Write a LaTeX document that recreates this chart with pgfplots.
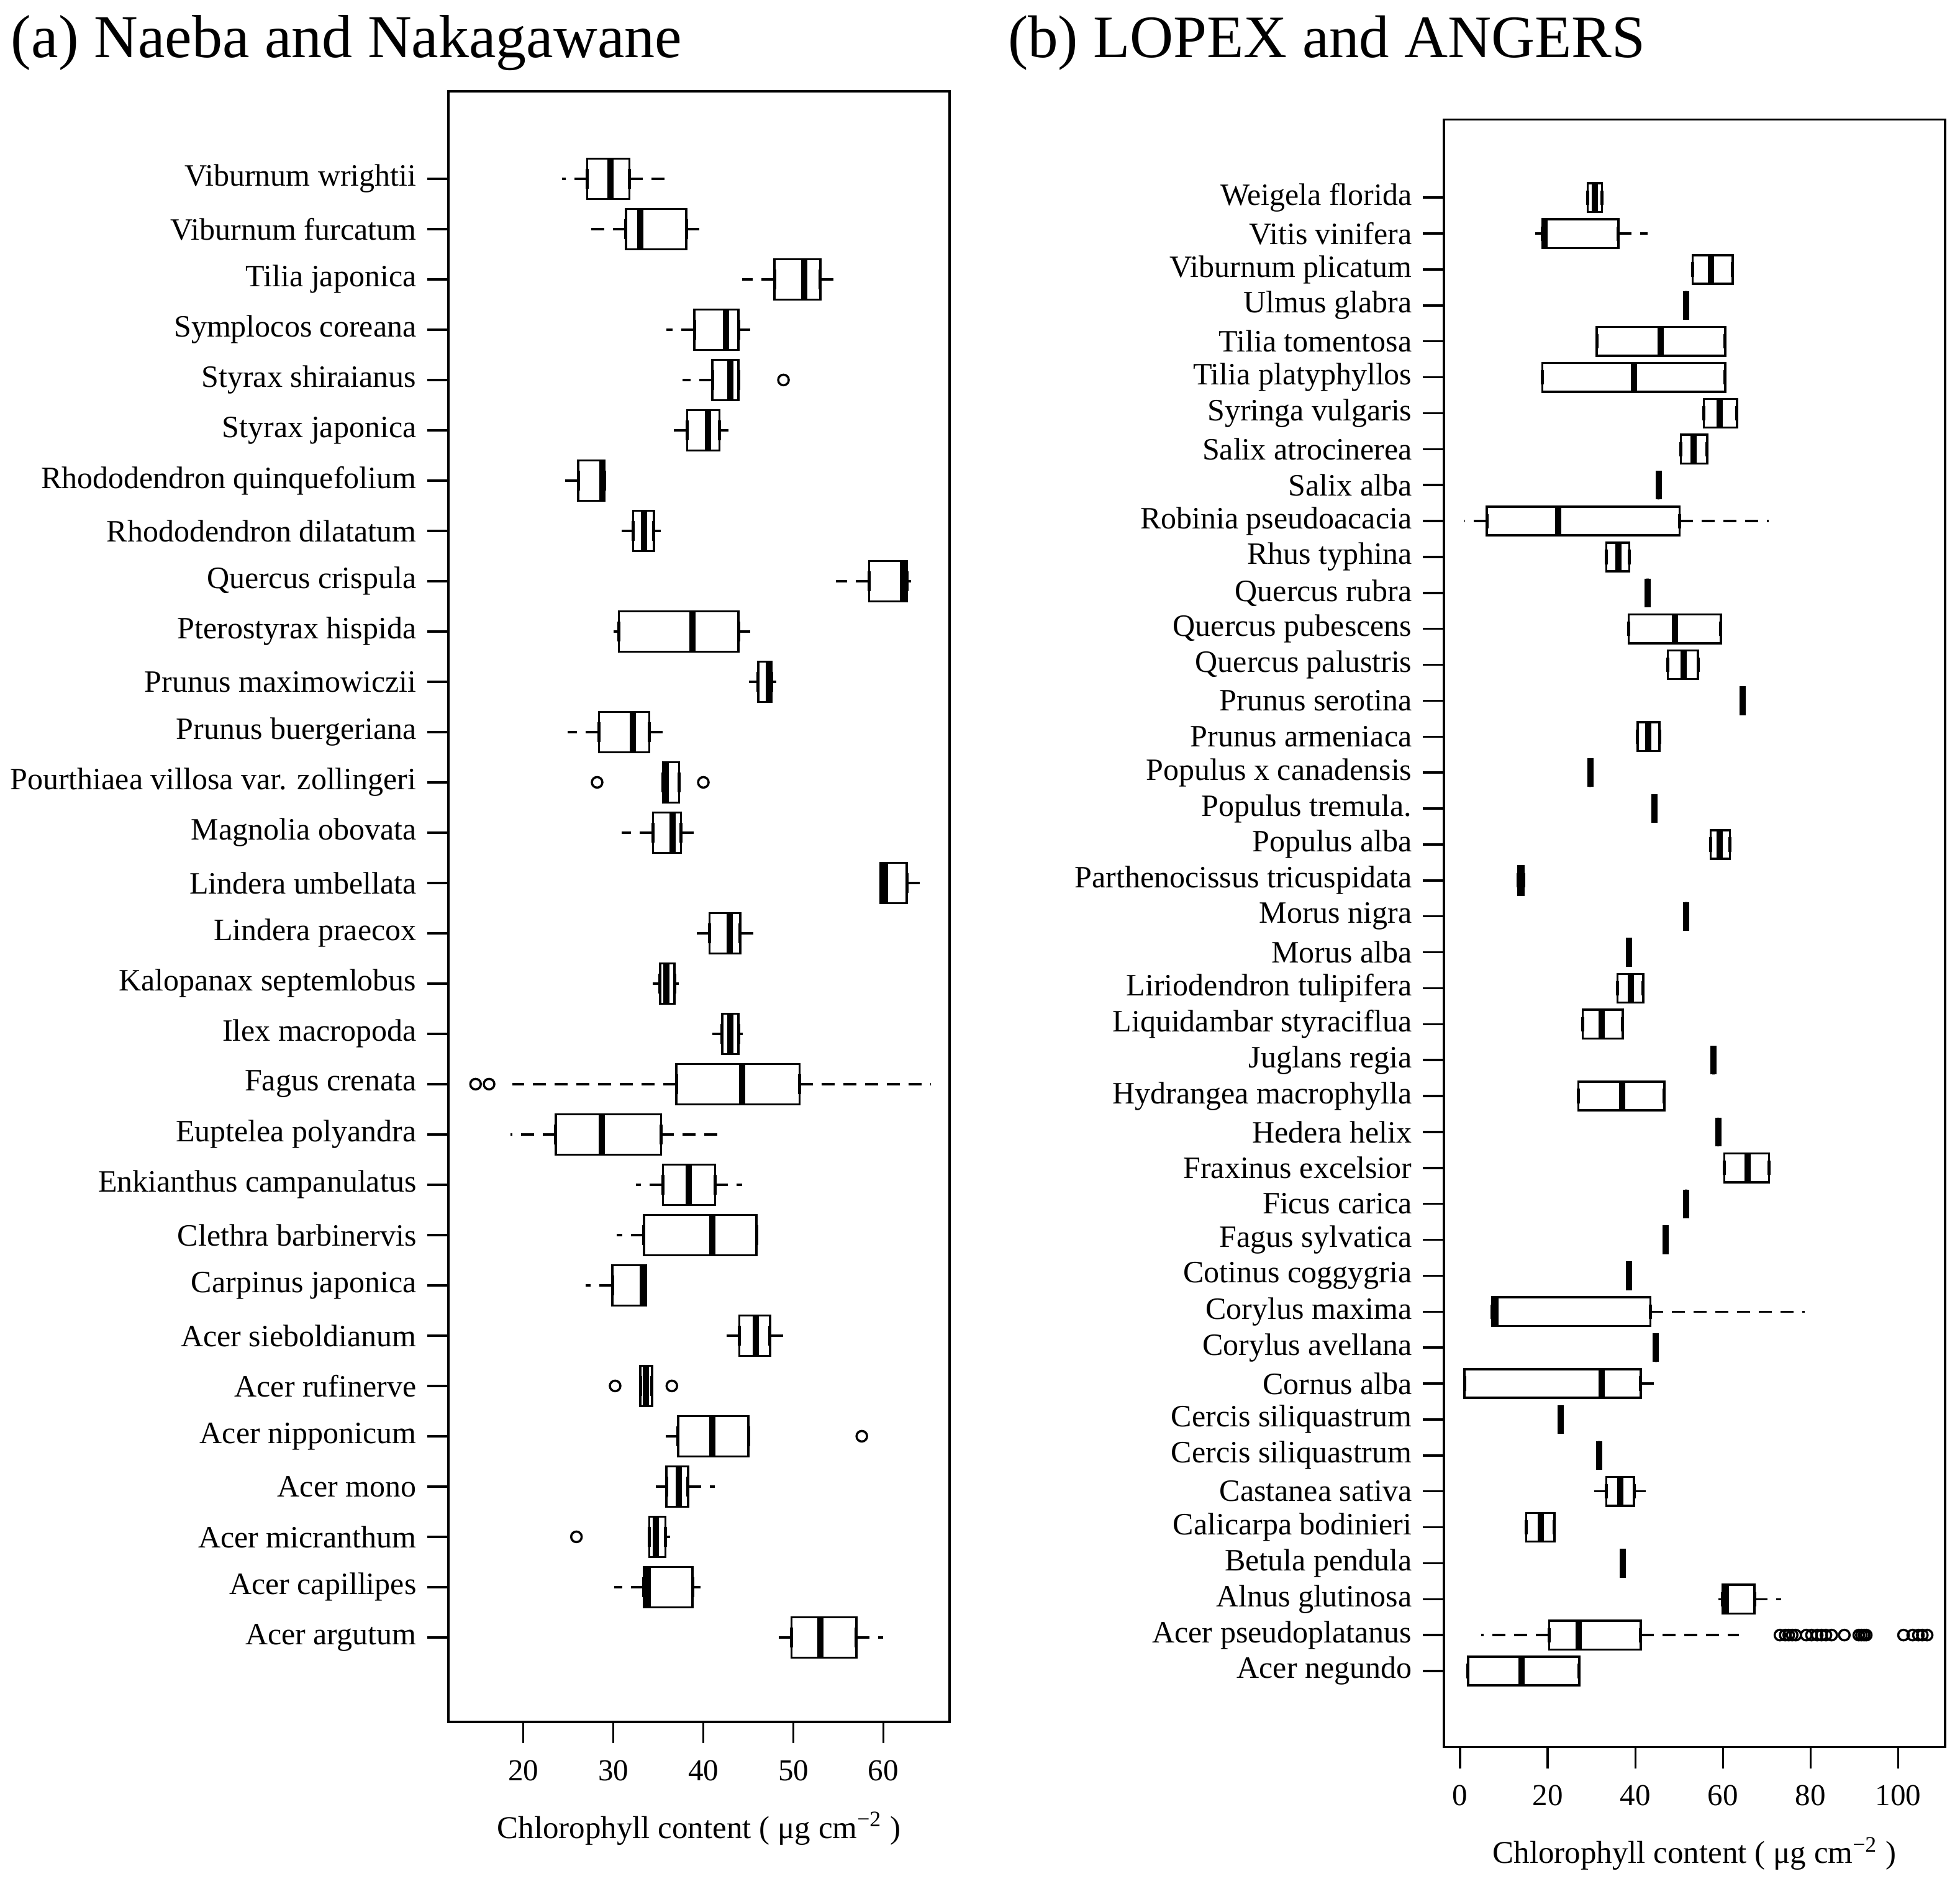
\documentclass[border=0pt]{standalone}
\usepackage{fontspec}
\setmainfont{Liberation Serif}
\usepackage{pgfplots}
\usepackage{pgfplotstable}
\pgfplotsset{compat=1.18}
\usepgfplotslibrary{statistics}

\pgfplotsset{
  boxplot/draw/whisker/.code 2 args={
    \draw[/pgfplots/boxplot/every whisker/.try, dash pattern=on 4.2bp off 2.8bp] (boxplot cs:#1) -- (boxplot cs:#2);
    \draw[/pgfplots/boxplot/every whisker/.try, solid, line width=1bp] (boxplot box cs:#1,0.25) -- (boxplot box cs:#1,0.75);
  },
  rb/.style={black, line width=0.7bp, solid,
    boxplot/draw direction=x,
    boxplot/box extend=0.8,
    boxplot/whisker extend=0.4,
    boxplot/every median/.style={line width=2bp},
  },
  rframe/.style={
    scale only axis,
    anchor=south west,
    axis line style={line width=0.7bp},
    tick style={line width=0.7bp, black},
    tick align=outside, xtick pos=left, ytick pos=left,
    major tick length=6.8bp,
    /pgf/number format/assume math mode=true,
    xticklabel style={font=\fontsize{9.8bp}{11bp}\selectfont, anchor=base, yshift=-12bp},
    yticklabel style={font=\fontsize{10bp}{11bp}\selectfont},
    xlabel style={font=\fontsize{10.2bp}{12bp}\selectfont, at={(axis description cs:0.5,0)}, anchor=base, yshift=-37.4bp},
  },
}

\newcommand{\boxesfrom}[2]{% #1 table, #2 last row index
  \pgfplotsinvokeforeach{0,...,#2}{
    \pgfplotstablegetelem{##1}{pos}\of#1\let\vpos\pgfplotsretval
    \pgfplotstablegetelem{##1}{lw}\of#1\let\vlw\pgfplotsretval
    \pgfplotstablegetelem{##1}{q1}\of#1\let\vqa\pgfplotsretval
    \pgfplotstablegetelem{##1}{med}\of#1\let\vmed\pgfplotsretval
    \pgfplotstablegetelem{##1}{q3}\of#1\let\vqb\pgfplotsretval
    \pgfplotstablegetelem{##1}{uw}\of#1\let\vuw\pgfplotsretval
    \edef\doplot{\noexpand\addplot[rb, boxplot prepared={draw position=\vpos,
      lower whisker=\vlw, lower quartile=\vqa, median=\vmed,
      upper quartile=\vqb, upper whisker=\vuw}] coordinates {};}
    \doplot
  }
}

\pgfplotstableread{
pos lw q1 med q3 uw
1 47.9 49.8 53.0 57.0 60.0
2 30.1 33.4 33.8 38.8 39.7
3 34.0 34.0 34.7 35.8 36.3
4 34.7 35.9 37.3 38.3 41.3
5 35.8 37.2 41.0 45.0 45.0
6 33.0 33.0 33.6 34.3 34.3
7 42.3 44.0 45.8 47.4 49.4
8 26.9 29.9 33.3 33.6 33.6
9 30.4 33.4 41.0 45.9 46.1
10 32.5 35.5 38.4 41.3 44.3
11 18.6 23.6 28.7 35.3 41.6
12 18.8 37.0 44.3 50.7 65.3
13 41.0 42.1 43.0 43.9 44.4
14 34.4 35.2 35.9 36.8 37.3
15 38.3 40.7 42.9 44.1 45.9
16 59.7 59.7 60.2 62.6 64.9
17 30.9 34.4 36.6 37.5 39.0
18 35.5 35.5 35.8 37.3 37.3
19 24.9 28.4 32.2 34.0 35.8
20 45.1 46.1 47.3 47.6 48.1
21 30.0 30.6 38.8 43.9 45.2
22 54.7 58.4 62.2 62.6 63.1
23 30.9 32.2 33.4 34.5 35.3
24 23.8 26.1 28.8 29.0 29.2
25 35.8 38.2 40.5 41.8 42.8
26 37.7 41.0 43.0 43.9 43.9
27 35.9 39.0 42.5 43.9 45.2
28 44.3 47.9 51.2 53.0 54.7
29 26.6 31.4 33.0 38.1 39.9
30 24.3 27.1 29.7 31.8 36.5
}\dataA

\pgfplotstableread{
x y
48.9 26
28.2 18
40.0 18
14.7 12
16.2 12
30.2 6
36.5 6
57.6 5
25.9 3
}\outA

\pgfplotstableread{
pos lw q1 med q3 uw
1 1.8 1.8 14.0 27.2 27.2
2 4.8 20.3 27.1 41.2 63.7
3 58.9 59.9 60.6 67.2 73.3
4 37.1 37.1 37.1 37.1 37.1
5 15.1 15.1 18.4 21.5 21.5
6 30.6 33.4 36.5 39.7 42.3
7 31.7 31.7 31.7 31.7 31.7
8 23.0 23.0 23.0 23.0 23.0
9 1.0 1.0 32.3 41.2 45.4
10 44.7 44.7 44.7 44.7 44.7
11 7.3 7.3 8.0 43.4 78.7
12 38.6 38.6 38.6 38.6 38.6
13 46.9 46.9 46.9 46.9 46.9
14 51.6 51.6 51.6 51.6 51.6
15 60.3 60.3 65.6 70.5 70.5
16 58.9 58.9 58.9 58.9 58.9
17 27.0 27.0 37.0 46.6 46.6
18 57.8 57.8 57.8 57.8 57.8
19 28.0 28.0 32.3 37.1 37.1
20 35.9 35.9 38.9 41.8 41.8
21 38.5 38.5 38.5 38.5 38.5
22 51.6 51.6 51.6 51.6 51.6
23 13.3 13.3 13.9 14.5 14.5
24 57.2 57.2 59.3 61.6 61.6
25 44.3 44.3 44.3 44.3 44.3
26 29.7 29.7 29.7 29.7 29.7
27 40.5 40.5 43.0 45.5 45.5
28 64.5 64.5 64.5 64.5 64.5
29 47.4 47.4 51.0 54.3 54.3
30 38.5 38.5 49.0 59.5 59.5
31 42.8 42.8 42.8 42.8 42.8
32 33.4 33.4 36.1 38.6 38.6
33 1.0 6.1 22.4 50.1 70.4
34 45.3 45.3 45.3 45.3 45.3
35 50.4 50.4 53.3 56.4 56.4
36 55.6 55.6 59.3 63.2 63.2
37 18.8 18.8 39.7 60.5 60.5
38 31.2 31.2 45.8 60.5 60.5
39 51.6 51.6 51.6 51.6 51.6
40 53.1 53.1 57.3 62.2 62.2
41 17.1 18.8 19.3 36.1 42.8
42 29.1 29.1 30.8 32.4 32.4
}\dataB

\pgfplotstableread{
x y
73.0 2
74.2 2
75.0 2
75.8 2
76.6 2
79.0 2
80.2 2
81.5 2
82.5 2
83.5 2
84.8 2
87.7 2
91.0 2
91.6 2
92.2 2
92.7 2
101.2 2
103.3 2
104.6 2
105.5 2
106.6 2
}\outB

\begin{document}
\begin{tikzpicture}
\useasboundingbox (0,0) rectangle (631.2bp,606.8bp);

\begin{axis}[rframe,
  at={(144.4bp,52.2bp)}, width=161.4bp, height=525.2bp,
  xmin=11.68, xmax=67.35, ymin=-0.68, ymax=31.74,
  xtick={20,30,40,50,60},
  ytick={1,...,30},
  yticklabels={Acer argutum, Acer capillipes, Acer micranthum, Acer mono, Acer nipponicum, Acer rufinerve, Acer sieboldianum, Carpinus japonica, Clethra barbinervis, Enkianthus campanulatus, Euptelea polyandra, Fagus crenata, Ilex macropoda, Kalopanax septemlobus, Lindera praecox, Lindera umbellata, Magnolia obovata, Pourthiaea villosa var. zollingeri, Prunus buergeriana, Prunus maximowiczii, Pterostyrax hispida, Quercus crispula, Rhododendron dilatatum, Rhododendron quinquefolium, Styrax japonica, Styrax shiraianus, Symplocos coreana, Tilia japonica, Viburnum furcatum, Viburnum wrightii},
  xlabel={Chlorophyll content ( μg cm\textsuperscript{−2} )},
]
\boxesfrom{\dataA}{29}
\addplot[only marks, mark=o, mark size=1.7bp, black, mark options={line width=0.7bp}] table[x=x, y=y] {\outA};
\end{axis}

\begin{axis}[rframe,
  at={(465bp,44.06bp)}, width=161.4bp, height=524.2bp,
  xmin=-3.7, xmax=110.7, ymin=-1.12, ymax=44.17,
  xtick={0,20,40,60,80,100},
  ytick={1,...,42},
  yticklabels={Acer negundo, Acer pseudoplatanus, Alnus glutinosa, Betula pendula, Calicarpa bodinieri, Castanea sativa, Cercis siliquastrum, Cercis siliquastrum, Cornus alba, Corylus avellana, Corylus maxima, Cotinus coggygria, Fagus sylvatica, Ficus carica, Fraxinus excelsior, Hedera helix, Hydrangea macrophylla, Juglans regia, Liquidambar styraciflua, Liriodendron tulipifera, Morus alba, Morus nigra, Parthenocissus tricuspidata, Populus alba, Populus tremula., Populus x canadensis, Prunus armeniaca, Prunus serotina, Quercus palustris, Quercus pubescens, Quercus rubra, Rhus typhina, Robinia pseudoacacia, Salix alba, Salix atrocinerea, Syringa vulgaris, Tilia platyphyllos, Tilia tomentosa, Ulmus glabra, Viburnum plicatum, Vitis vinifera, Weigela florida},
  xlabel={Chlorophyll content ( μg cm\textsuperscript{−2} )},
]
\boxesfrom{\dataB}{41}
\addplot[only marks, mark=o, mark size=1.7bp, black, mark options={line width=0.7bp}] table[x=x, y=y] {\outB};
\end{axis}

\node[anchor=base west, inner sep=0pt, font=\fontsize{19.6bp}{23bp}\selectfont] at (3.4bp,588.3bp) {(a) Naeba and Nakagawane};
\node[anchor=base west, inner sep=0pt, font=\fontsize{19.4bp}{23bp}\selectfont] at (324.4bp,588.3bp) {(b) LOPEX and ANGERS};
\end{tikzpicture}
\end{document}
